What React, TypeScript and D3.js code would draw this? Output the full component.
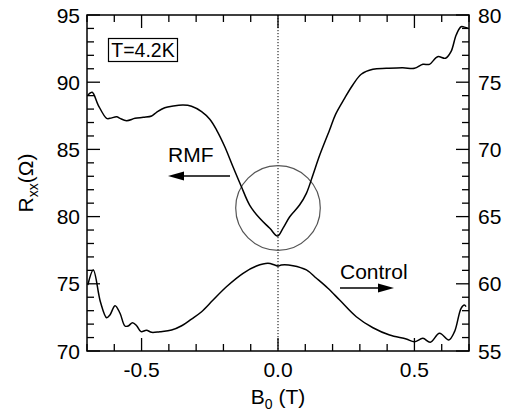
import React from "react";
import * as d3 from "d3";

const bRMF = [-0.697, -0.681, -0.659, -0.628, -0.616, -0.591, -0.579, -0.555, -0.524, -0.494, -0.463, -0.445, -0.415, -0.384, -0.348, -0.317, -0.28, -0.25, -0.225, -0.195, -0.165, -0.134, -0.104, -0.067, -0.03, -0.002, 0.018, 0.043, 0.079, 0.104, 0.128, 0.153, 0.189, 0.211, 0.244, 0.274, 0.305, 0.348, 0.397, 0.457, 0.5, 0.531, 0.555, 0.585, 0.614, 0.634, 0.653, 0.671, 0.689, 0.695];
const rRMF = [89.05, 89.25, 88.3, 87.31, 87.31, 87.43, 87.31, 87.14, 87.31, 87.39, 87.49, 87.76, 88.1, 88.23, 88.3, 88.21, 87.81, 87.24, 86.44, 85.2, 83.71, 82.22, 80.86, 79.87, 79.13, 78.55, 79.13, 79.99, 80.86, 81.73, 83.1, 84.58, 86.44, 87.61, 88.8, 89.79, 90.59, 90.96, 91.03, 91.08, 91.03, 91.33, 91.33, 91.9, 91.78, 92.27, 93.51, 94.13, 94.06, 94.06];

const bCtrl = [-0.697, -0.677, -0.651, -0.628, -0.616, -0.597, -0.579, -0.561, -0.549, -0.533, -0.518, -0.502, -0.482, -0.463, -0.433, -0.39, -0.353, -0.317, -0.28, -0.238, -0.189, -0.128, -0.079, -0.037, -0.012, 0.0, 0.012, 0.055, 0.104, 0.141, 0.183, 0.226, 0.287, 0.348, 0.409, 0.47, 0.5, 0.531, 0.558, 0.592, 0.626, 0.647, 0.671, 0.683, 0.689];
const rCtrl = [59.91, 61.03, 58.67, 57.48, 57.68, 58.37, 57.81, 56.86, 56.86, 57.11, 56.88, 56.44, 56.54, 56.39, 56.44, 56.56, 56.88, 57.38, 57.92, 58.79, 59.78, 60.78, 61.32, 61.53, 61.4, 61.32, 61.4, 61.35, 61.03, 60.41, 59.67, 58.79, 57.55, 56.73, 56.19, 55.89, 55.69, 55.94, 55.65, 56.32, 55.82, 56.44, 58.18, 58.42, 58.3];

const xMajor = [-0.5, 0, 0.5];
const xMajorLabels = ["-0.5", "0.0", "0.5"];
const xMinor = [-0.7, -0.6, -0.4, -0.3, -0.2, -0.1, 0.1, 0.2, 0.3, 0.4, 0.6, 0.7];
const leftMajor = [70, 75, 80, 85, 90, 95];
const rightMajor = [55, 60, 65, 70, 75, 80];

const W = 511, H = 411;
const L = 87, R = 469, T = 15, B = 351;
const FONT = "'Liberation Sans', Arial, Helvetica, sans-serif";
const FS = 21;

export default function App() {
  const x = d3.scaleLinear().domain([-0.7, 0.7]).range([L, R]);
  const yL = d3.scaleLinear().domain([70, 95]).range([B, T]);
  const yR = d3.scaleLinear().domain([55, 80]).range([B, T]);
  const leftMinor = d3.range(71, 95).filter((v) => v % 5 !== 0);
  const rightMinor = d3.range(56, 80).filter((v) => v % 5 !== 0);

  const lineL = d3.line<number>().x((_, i) => x(bRMF[i])).y((d) => yL(d)).curve(d3.curveCatmullRom.alpha(0.5));
  const lineR = d3.line<number>().x((_, i) => x(bCtrl[i])).y((d) => yR(d)).curve(d3.curveCatmullRom.alpha(0.5));

  const maj = 13, mnr = 7;
  const circR = x(0.155) - x(0);

  return (
    <svg width={W} height={H} style={{ position: "fixed", left: 0, top: 0 }} fontFamily={FONT}>
      <rect x={0} y={0} width={W} height={H} fill="#fff" />
      <line x1={x(0)} x2={x(0)} y1={T} y2={B} stroke="#000" strokeWidth={1} strokeDasharray="1.2,1.8" />
      <circle cx={x(0)} cy={yL(80.64)} r={circR} fill="none" stroke="#555" strokeWidth={1.2} />
      <path d={lineL(rRMF) || ""} fill="none" stroke="#000" strokeWidth={1.5} strokeLinejoin="round" />
      <path d={lineR(rCtrl) || ""} fill="none" stroke="#000" strokeWidth={1.5} strokeLinejoin="round" />
      <rect x={L} y={T} width={R - L} height={B - T} fill="none" stroke="#000" strokeWidth={1.5} />
      {xMajor.map((v) => (
        <g key={"xm" + v}>
          <line x1={x(v)} x2={x(v)} y1={B} y2={B - maj} stroke="#000" strokeWidth={1.3} />
          <line x1={x(v)} x2={x(v)} y1={T} y2={T + maj} stroke="#000" strokeWidth={1.3} />
        </g>
      ))}
      {xMinor.map((v) => (
        <g key={"xn" + v}>
          <line x1={x(v)} x2={x(v)} y1={B} y2={B - mnr} stroke="#000" strokeWidth={1.3} />
          <line x1={x(v)} x2={x(v)} y1={T} y2={T + mnr} stroke="#000" strokeWidth={1.3} />
        </g>
      ))}
      {xMajor.map((v, i) => (
        <text key={"xl" + v} x={x(v)} y={377} fontSize={FS} textAnchor="middle">{xMajorLabels[i]}</text>
      ))}
      {leftMajor.map((v) => (
        <g key={"lm" + v}>
          <line x1={L} x2={L + maj} y1={yL(v)} y2={yL(v)} stroke="#000" strokeWidth={1.3} />
          <text x={80} y={yL(v) + 7.5} fontSize={FS} textAnchor="end">{v}</text>
        </g>
      ))}
      {leftMinor.map((v) => (
        <line key={"ln" + v} x1={L} x2={L + mnr} y1={yL(v)} y2={yL(v)} stroke="#000" strokeWidth={1.3} />
      ))}
      {rightMajor.map((v) => (
        <g key={"rm" + v}>
          <line x1={R} x2={R - maj} y1={yR(v)} y2={yR(v)} stroke="#000" strokeWidth={1.3} />
          <text x={478} y={yR(v) + 7.5} fontSize={FS} textAnchor="start">{v}</text>
        </g>
      ))}
      {rightMinor.map((v) => (
        <line key={"rn" + v} x1={R} x2={R - mnr} y1={yR(v)} y2={yR(v)} stroke="#000" strokeWidth={1.3} />
      ))}
      <text x={x(0)} y={404} fontSize={FS} textAnchor="middle">
        B<tspan fontSize={14} dy={5}>0</tspan><tspan dy={-5}> (T)</tspan>
      </text>
      <text transform={`translate(33,${(T + B) / 2}) rotate(-90)`} fontSize={FS} textAnchor="middle">
        R<tspan fontSize={14} dy={5}>xx</tspan><tspan dy={-5}>(Ω)</tspan>
      </text>
      <rect x={108.5} y={38.5} width={69} height={23} fill="#fff" stroke="#000" strokeWidth={1.2} />
      <text x={143} y={56.5} fontSize={19.5} textAnchor="middle">T=4.2K</text>
      <text x={168} y={161.5} fontSize={FS}>RMF</text>
      <line x1={230} x2={180} y1={176} y2={176} stroke="#000" strokeWidth={1.5} />
      <path d="M168,176 L184,171.5 L184,180.5 Z" fill="#000" />
      <text x={340} y={279} fontSize={FS}>Control</text>
      <line x1={340} x2={382} y1={288} y2={288} stroke="#000" strokeWidth={1.5} />
      <path d="M394,288 L378,283.5 L378,292.5 Z" fill="#000" />
    </svg>
  );
}
